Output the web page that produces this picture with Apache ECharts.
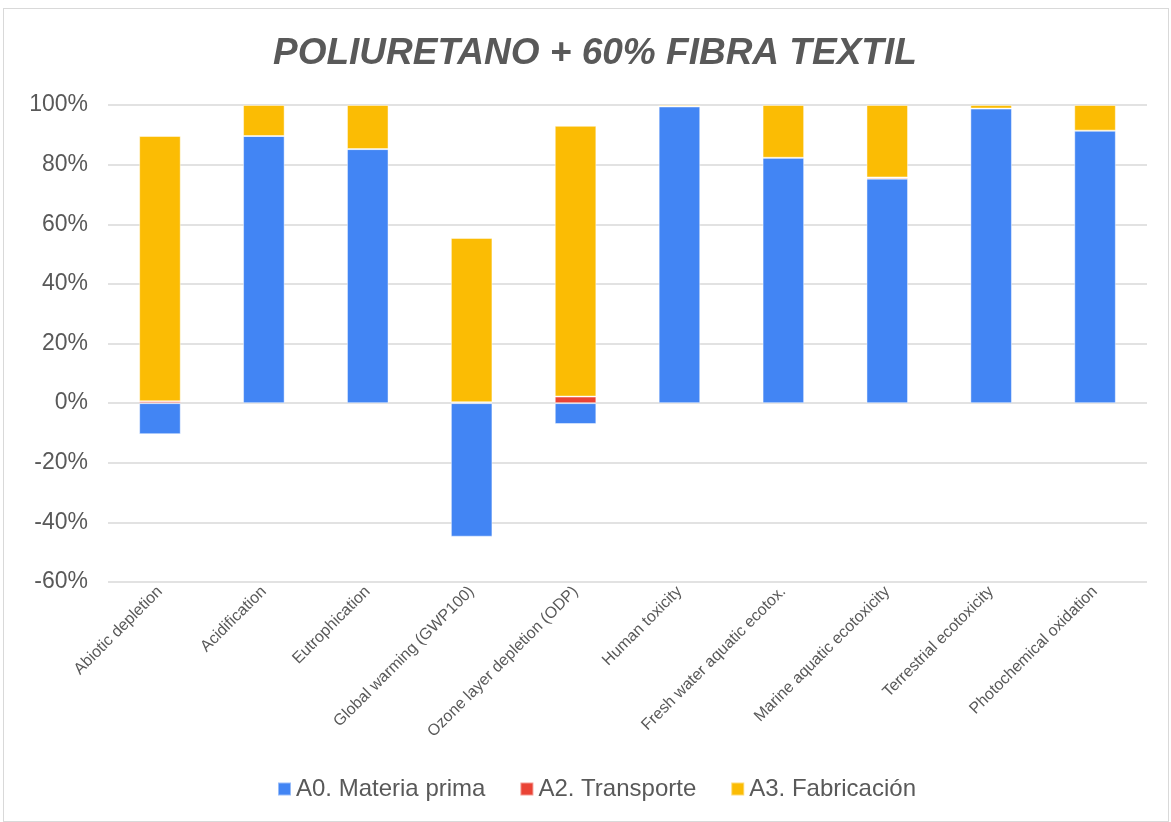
<!DOCTYPE html>
<html>
<head>
<meta charset="utf-8">
<script src="https://cdn.jsdelivr.net/npm/echarts@6/dist/echarts.min.js"></script>
<style>
  html, body { margin: 0; padding: 0; background: #fff; }
  #chart {
    position: absolute; left: 3px; top: 8px; width: 1166px; height: 814px;
    border: 1px solid #d9d9d9; box-sizing: border-box;
  }
</style>
</head>
<body>
<div id="chart"></div>
<script>
const categories = [
  'Abiotic depletion', 'Acidification', 'Eutrophication', 'Global warming (GWP100)',
  'Ozone layer depletion (ODP)', 'Human toxicity', 'Fresh water aquatic ecotox.',
  'Marine aquatic ecotoxicity', 'Terrestrial ecotoxicity', 'Photochemical oxidation'
]
const materiaPrima = [-10.4, 89.6, 85.2, -44.8, -7.0, 99.5, 82.3, 75.3, 98.8, 91.4]
const transporte = [0.6, 0.0, 0.0, 0.3, 2.2, 0.0, 0.0, 0.4, 0.0, 0.0]
const fabricacion = [89.0, 10.4, 14.8, 55.1, 90.8, 0.5, 17.7, 24.3, 1.2, 8.6]

const textColor = '#595959'
const font = 'Liberation Sans, Arial, sans-serif'

const chart = echarts.init(document.getElementById('chart'))

function barSeries(name, data, color) {
  return {
    name: name,
    type: 'bar',
    stack: 'total',
    barWidth: '40%',
    data: data,
    itemStyle: {
      color: color,
      borderColor: 'rgba(255,255,255,0.45)',
      borderWidth: 1
    }
  }
}

const option = {
  animation: false,
  textStyle: { fontFamily: font },
  title: {
    text: 'POLIURETANO + 60% FIBRA TEXTIL',
    left: 264,
    top: 21,
    textStyle: {
      fontSize: 37,
      fontStyle: 'italic',
      fontWeight: 'bold',
      color: textColor,
      fontFamily: font
    }
  },
  legend: {
    bottom: 15,
    left: 268,
    icon: 'rect',
    itemWidth: 13,
    itemHeight: 13,
    itemGap: 34,
    textStyle: { fontSize: 24, color: textColor, fontFamily: font }
  },
  grid: {
    left: 104,
    right: 21,
    top: 96,
    bottom: 239
  },
  xAxis: {
    type: 'category',
    data: categories,
    axisLine: { show: false },
    axisTick: { show: false },
    axisLabel: {
      rotate: 45,
      interval: 0,
      fontSize: 16,
      color: textColor,
      margin: 7
    }
  },
  yAxis: {
    type: 'value',
    min: -60,
    max: 100,
    interval: 20,
    axisLabel: {
      formatter: '{value}%',
      fontSize: 23,
      color: textColor,
      margin: 20
    },
    splitLine: { lineStyle: { color: '#d9d9d9', width: 1.5 } }
  },
  series: [
    barSeries('A0. Materia prima', materiaPrima, '#4285F4'),
    barSeries('A2. Transporte', transporte, '#EA4335'),
    barSeries('A3. Fabricación', fabricacion, '#FBBC04')
  ]
}

chart.setOption(option)
</script>
</body>
</html>
